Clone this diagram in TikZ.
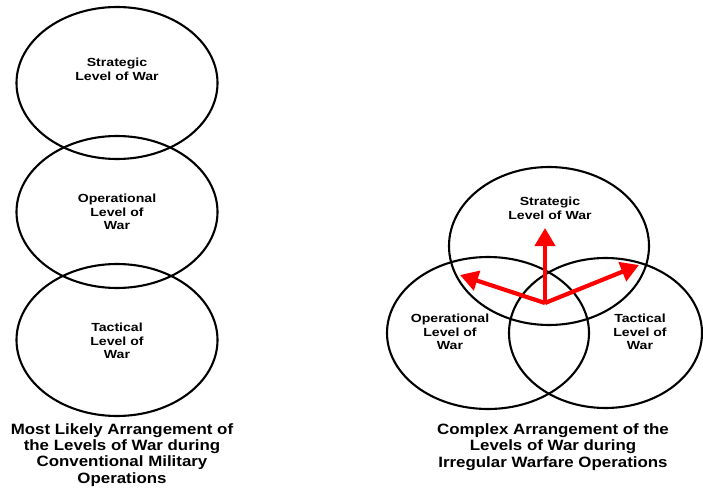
\documentclass[tikz,border=0pt]{standalone}
\usepackage{fontspec}
\setmainfont[FakeStretch=1.13]{Liberation Sans}
\newfontfamily\lblfont[FakeStretch=1.2]{Liberation Sans}
\usetikzlibrary{arrows.meta}

\begin{document}
\begin{tikzpicture}[x=1bp, y=-1bp,
    lvl/.style={align=center, font=\lblfont\bfseries\fontsize{11.8}{13.8}\selectfont},
    captxt/.style={align=center, font=\bfseries\fontsize{15}{16.3}\selectfont},
    ring/.style={line width=2.1bp},
    push/.style={red, line width=4.2bp, -{Triangle[length=18bp,width=20bp]}}]
  \useasboundingbox (0,0) rectangle (703,490);
  % conventional arrangement
  \draw[ring] (117,83) ellipse [x radius=100.5, y radius=76];
  \draw[ring] (117,212) ellipse [x radius=100.5, y radius=76];
  \draw[ring] (117,340) ellipse [x radius=100.5, y radius=76];
  \node[lvl] (lstrat) at (117,69) {Strategic\\Level of War};
  \node[lvl] (loper) at (117,212) {Operational\\Level of\\War};
  \node[lvl] (ltact) at (117,341) {Tactical\\Level of\\War};
  \node[captxt] (lcap) at (122,455) {Most Likely Arrangement of\\the Levels of War during\\Conventional Military\\Operations};
  % irregular arrangement
  \draw[ring] (549,246) ellipse [x radius=100, y radius=79];
  \draw[ring] (488,333) ellipse [x radius=101, y radius=76];
  \draw[ring] (605.5,333) ellipse [x radius=96.5, y radius=75];
  \node[lvl] (rstrat) at (550,208) {Strategic\\Level of War};
  \node[lvl] (roper) at (450,332) {Operational\\Level of\\War};
  \node[lvl] (rtact) at (640,332) {Tactical\\Level of\\War};
  \node[captxt] (rcap) at (553,447) {Complex Arrangement of the\\Levels of War during\\Irregular Warfare Operations};
  \coordinate (hub) at (545,303);
  \coordinate (tipup) at (545,228);
  \coordinate (tipleft) at (460,275);
  \coordinate (tipright) at (639,265);
  \draw[push] (hub) -- (tipup);
  \draw[push] (hub) -- (tipleft);
  \draw[push] (hub) -- (tipright);
\end{tikzpicture}
\end{document}
